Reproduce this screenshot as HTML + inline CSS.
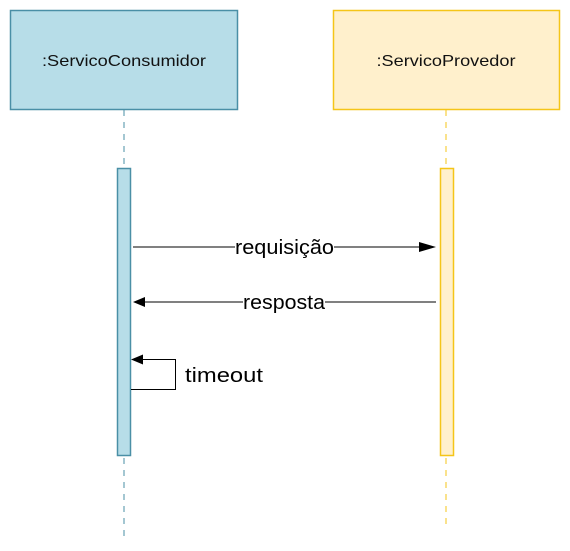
<!DOCTYPE html>
<html><head><meta charset="utf-8"><style>body{margin:0;background:#fff}</style></head><body>
<svg width="570" height="546" xmlns="http://www.w3.org/2000/svg" font-family="'Liberation Sans',sans-serif">
<rect x="10.5" y="10.5" width="227" height="99" fill="#b7dde8" stroke="#4a8fa6" stroke-width="1.5"/>
<text x="124" y="66" font-size="16" text-anchor="middle" fill="#111" textLength="164" lengthAdjust="spacingAndGlyphs">:ServicoConsumidor</text>
<rect x="333.5" y="10.5" width="226" height="99" fill="#fff0cc" stroke="#f5c518" stroke-width="1.5"/>
<text x="446" y="66" font-size="16" text-anchor="middle" fill="#111" textLength="139" lengthAdjust="spacingAndGlyphs">:ServicoProvedor</text>
<line x1="124" y1="110" x2="124" y2="536" stroke="#4a8fa6" stroke-dasharray="6,6"/>
<line x1="446" y1="110" x2="446" y2="526" stroke="#f5c518" stroke-dasharray="6,6"/>
<rect x="117.5" y="168.5" width="13" height="287" fill="#b7dde8" stroke="#4a8fa6" stroke-width="1.5"/>
<rect x="440.5" y="168.5" width="13" height="287" fill="#fff0cc" stroke="#f5c518" stroke-width="1.5"/>
<line x1="133" y1="247" x2="420" y2="247" stroke="#000"/>
<polygon points="436,247 419,242 419,252" fill="#000"/>
<rect x="235" y="237" width="99" height="20" fill="#fff"/>
<text x="235" y="254" font-size="20" textLength="99" lengthAdjust="spacingAndGlyphs">requisição</text>
<line x1="436" y1="302" x2="140" y2="302" stroke="#000"/>
<polygon points="133,302 145,297 145,307" fill="#000"/>
<rect x="243" y="292" width="82" height="20" fill="#fff"/>
<text x="243" y="309" font-size="20" textLength="82" lengthAdjust="spacingAndGlyphs">resposta</text>
<polyline points="131,389.5 175.5,389.5 175.5,359.5 140,359.5" fill="none" stroke="#000"/>
<polygon points="131,359.5 143,354.5 143,364.5" fill="#000"/>
<text x="185" y="382" font-size="20" textLength="78" lengthAdjust="spacingAndGlyphs">timeout</text>
</svg>
</body></html>
